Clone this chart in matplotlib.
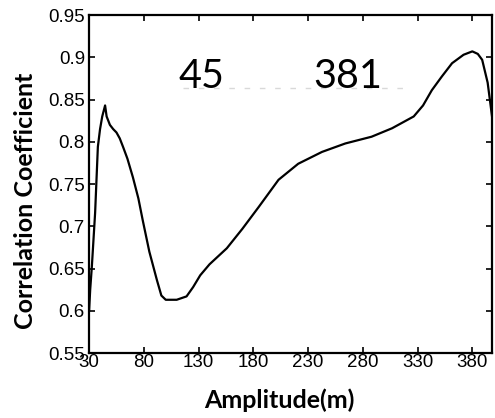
import matplotlib
matplotlib.use("Agg")
from matplotlib import pyplot as plt

# curve
amp = [30, 31, 32.5, 35.5, 38, 40, 42, 44.6, 46, 49, 52, 55, 58, 61, 65, 70, 75, 79, 85, 92, 96,
       100, 110, 119, 125, 131.5, 140, 155.8, 170, 185, 203, 221, 242.7, 264, 288, 306.7, 326.5,
       335, 343, 352, 361.5, 372, 380, 385, 389, 394, 398]
corr = [0.600, 0.625, 0.652, 0.716, 0.794, 0.815, 0.830, 0.843, 0.830, 0.820, 0.815, 0.811, 0.804,
        0.794, 0.780, 0.758, 0.733, 0.707, 0.670, 0.636, 0.618, 0.613, 0.613, 0.617, 0.628, 0.642,
        0.655, 0.674, 0.697, 0.723, 0.755, 0.774, 0.788, 0.798, 0.806, 0.816, 0.830, 0.843, 0.861,
        0.877, 0.893, 0.903, 0.907, 0.904, 0.897, 0.870, 0.830]

xticks = [30, 80, 130, 180, 230, 280, 330, 380]
yticks = [0.55, 0.6, 0.65, 0.7, 0.75, 0.8, 0.85, 0.9, 0.95]
ytick_labels = ['0.55', '0.6', '0.65', '0.7', '0.75', '0.8', '0.85', '0.9', '0.95']

peak_labels = ['45', '381']
peak_label_x = [111.4, 234.8]
ref_x = [116, 323]
ref_y = 0.864

fig = plt.figure(figsize=(4.95, 4.18), dpi=100)
ax = fig.add_axes([0.180, 0.1555, 0.814, 0.8085])

ax.plot(ref_x, [ref_y, ref_y], color='#d9d9d9', lw=1, ls=(0, (4, 7)))
ax.plot(amp, corr, color='black', lw=1.6)

for lab, xx in zip(peak_labels, peak_label_x):
    ax.text(xx, ref_y, lab, fontsize=28.5, family='Lato', ha='left', va='baseline')

ax.set_xlim(30, 398)
ax.set_ylim(0.55, 0.95)
ax.set_xticks(xticks)
ax.set_yticks(yticks)
ax.set_yticklabels(ytick_labels)
ax.tick_params(direction='in', top=True, right=True, length=4, width=1.2,
               labelsize=13.5, pad=3)
ax.tick_params(axis='x', pad=1)
for lab in ax.get_xticklabels() + ax.get_yticklabels():
    lab.set_family('Liberation Sans')
for sp in ax.spines.values():
    sp.set_linewidth(1.6)

ax.set_xlabel('Amplitude(m)', fontsize=18, fontweight='bold', family='Lato')
ax.set_ylabel('Correlation Coefficient', fontsize=18, fontweight='bold', family='Lato')
ax.xaxis.set_label_coords(0.471, -0.105)
ax.yaxis.set_label_coords(-0.130, 0.45)

fig.savefig('out.png', dpi=100)
